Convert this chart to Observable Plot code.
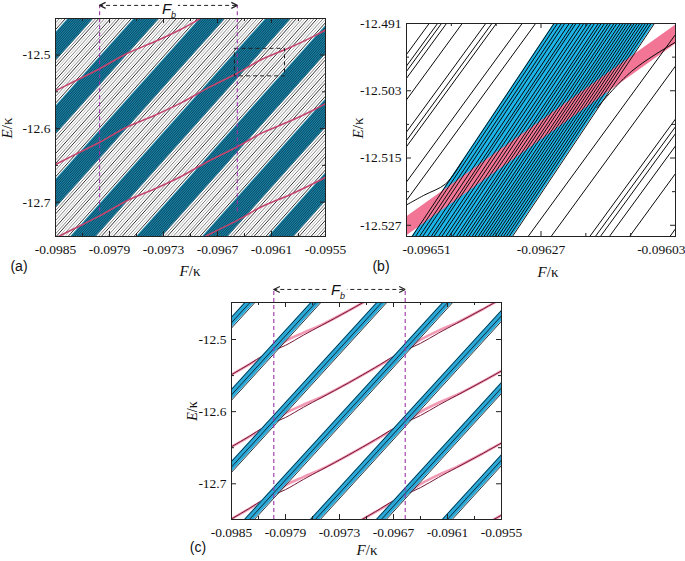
<!DOCTYPE html>
<html><head><meta charset="utf-8">
<script src="https://cdn.jsdelivr.net/npm/d3@7"></script>
<script src="https://cdn.jsdelivr.net/npm/@observablehq/plot@0.6"></script>
<style>
body{margin:0;background:#fff;}
#fig{position:relative;width:685px;height:561px;overflow:hidden;font-family:"Liberation Serif","Times New Roman",serif;color:#111;}
.p{position:absolute;}
.lbl{position:absolute;white-space:nowrap;transform:translate(-50%,-50%);line-height:1.15;}
.sans{font-family:"Liberation Sans",Arial,sans-serif;}
</style></head><body><div id="fig"></div>
<script>
// ---------------- shared data ----------------
const periods = [-5,-4,-3,-2,-1,0,1,2,3,4];       // ladder repetitions
const periodStep = 0.1;                           // E period of the ladders
const ladderSlope = 136.5;                        // dE/dF of steep levels (a),(c)

// ---------------- panel (a) ----------------
const FdomA = [-0.0985, -0.0955];
const EdomA = [-12.7466, -12.4504];
const xTicksA = [-0.0985,-0.0979,-0.0973,-0.0967,-0.0961,-0.0955];
const xMinorA = [-0.0982,-0.0976,-0.0970,-0.0964,-0.0958];
const yTicksA = [-12.5,-12.6,-12.7];
const yMinorA = [-12.55,-12.65];
const bandCenterA = -12.789;   // band centre E at F=-0.0985 (period 0)
const bandHalfA = 0.019;
const bandLineOffA = [-0.018,-0.0145,-0.011,-0.0075,-0.004,-0.0005,0.003,0.0065,0.010,0.0135,0.017];
const grayOffA = [0.0235,0.028,0.0325,0.037,0.0415,0.046,0.0505,0.055,0.0595,0.064,0.0685,0.073,0.0775];
const grayShadeA = [2,0,1,0,2,1,0,2,0,1,0,2,1];
const redFA = [-0.0987,-0.0985,-0.0983,-0.09801,-0.0977,-0.0974,-0.0971,-0.0968,-0.09648,-0.0962,-0.0959,-0.0956,-0.0953];
const redEA = [-12.661,-12.6487,-12.6364,-12.6186,-12.5976,-12.5821,-12.5647,-12.5443,-12.5247,-12.5055,-12.4901,-12.4726,-12.4522];
const redPeriodsA = [-2,-1,0,1];
const fbA = [-0.09801, -0.09648];
const fbArrowEA = -12.4326, fbLineBottomA = -12.713;
const boxA = {F1:-0.096506, F2:-0.09595, E1:-12.529, E2:-12.4916};

// ---------------- panel (b) ----------------
const FdomB = [-0.09651, -0.09603];
const EdomB = [-12.529, -12.491];
const xTicksB = [-0.09651,-0.09627,-0.09603];
const xMinorB = [-0.09643,-0.09635,-0.09619,-0.09611];
const yTicksB = [-12.491,-12.503,-12.515,-12.527];
const yMinorB = [-12.497,-12.509,-12.521];
const slopeB = 137;        // white-region levels
const bandSlopeB = 150;    // levels inside the blue band
const levelsB = [-0.096747,-0.096732,-0.096725,-0.096716,-0.096688,-0.096646,-0.096635,-0.096627,-0.096581,-0.096557,
                 -0.096293,-0.096252,-0.096183,-0.096173,-0.096164,-0.096148,-0.096112,-0.096040,-0.09601]; // F at E=-12.529
const bandEdgesB = [-0.0965, -0.096321];   // F at E=-12.529
const bandLinesB = [-0.096500,-0.096494,-0.096487,-0.096481,-0.096473,-0.096466,-0.096461,-0.096453,-0.096447,-0.096440,
  -0.096434,-0.096428,-0.096421,-0.096416,-0.096410,-0.096404,-0.096399,-0.096393,-0.096388,-0.096382,-0.096377,-0.096372,
  -0.096367,-0.096362,-0.096357,-0.096352,-0.096347,-0.096342,-0.096337,-0.096332,-0.096327,-0.096321];
const pinkCenterB = [[-0.09651,-12.5272],[-0.09603,-12.4930]];
const pinkHalfB = 0.0017;
const anti1B = [[-0.09617,-12.5060],[-0.096108,-12.4995],[-0.096028,-12.4942],[-0.09600,-12.4926]];
const anti2B = [[-0.09653,-12.5245],[-0.09648,-12.5217],[-0.09644,-12.5196],[-0.09641,-12.5155]];

// ---------------- panel (c) ----------------
const FdomC = [-0.0985, -0.0955];
const EdomC = [-12.7495, -12.4487];
const bandCenterC = -12.7767;
const bandHalfC = 0.0075;
const redFC = [-0.0987,-0.0985,-0.0983,-0.09815,-0.09803,-0.0979,-0.0977,-0.0975,-0.0972,-0.0969,-0.0967,-0.09657,-0.0964,-0.0962,-0.0960,-0.0957,-0.0955,-0.0953];
const redDarkEC = [-12.6629,-12.6487,-12.634,-12.6222,-12.615,-12.6081,-12.5939,-12.5805,-12.5601,-12.5386,-12.5234,-12.515,-12.5053,-12.4911,-12.4777,-12.4574,-12.4435,-12.4295];
const redPinkEC = [-12.6629,-12.6487,-12.6345,-12.6235,-12.6145,-12.6021,-12.5904,-12.5797,-12.5601,-12.5391,-12.5245,-12.5145,-12.5003,-12.4876,-12.4769,-12.4574,-12.4435,-12.4295];
const redPeriodsC = [-3,-2,-1,0,1];
const fbC = [-0.09803, -0.09657];
const fbArrowEC = -12.4306;

// ---------------- helpers ----------------
const fig = document.getElementById("fig");
const INK = "#222";
function ladder(center0, offsets, groups, F0, F1, slope, tag) {
  const out = [];
  periods.forEach(k => offsets.forEach((o, i) => {
    for (const F of [F0, F1]) out.push({id: tag + k + "_" + i, F, E: center0 + k*periodStep + o + slope*(F - F0), g: groups ? groups[i] : 0});
  }));
  return out;
}
function bands(center0, half, F0, F1, slope) {
  const out = [];
  periods.forEach(k => { for (const F of [F0, F1]) { const c = center0 + k*periodStep + slope*(F - F0); out.push({k, F, lo: c - half, hi: c + half}); } });
  return out;
}
function template(Fs, Es, ks) {
  return ks.flatMap(k => Fs.map((F, i) => ({k, F, E: Es[i] + k*periodStep})));
}
function levelsFromBottom(list, slope, Ebot, Etop, tag) {
  return list.flatMap((fb, i) => [Ebot - 0.005, Etop + 0.005].map(E => ({id: tag + i, F: fb + (E - Ebot)/slope, E})));
}
function frameTicks(xd, yd, W, H, xMaj, xMin, yMaj, yMin) {
  const ly = (yd[1]-yd[0])/H, lx = (xd[1]-xd[0])/W, out = [];
  for (const [arr, L] of [[xMaj, 5], [xMin, 3]]) {
    out.push(Plot.ruleX(arr, {x: d => d, y1: () => yd[0], y2: () => yd[0] + L*ly, stroke: INK}));
    out.push(Plot.ruleX(arr, {x: d => d, y1: () => yd[1], y2: () => yd[1] - L*ly, stroke: INK}));
  }
  for (const [arr, L] of [[yMaj, 5], [yMin, 3]]) {
    out.push(Plot.ruleY(arr, {y: d => d, x1: () => xd[0], x2: () => xd[0] + L*lx, stroke: INK}));
    out.push(Plot.ruleY(arr, {y: d => d, x1: () => xd[1], x2: () => xd[1] - L*lx, stroke: INK}));
  }
  return out;
}
function fbMarks(f, e, eBottom, W, H, xd, yd) {
  const lx = (xd[1]-xd[0])/W, ly = (yd[1]-yd[0])/H;
  const hx = 6*lx, hy = 3*ly;
  return [
    Plot.ruleX(f, {x: d => d, y1: () => eBottom, y2: () => e, stroke: "#9c34a8", strokeDasharray: "4,3", strokeWidth: 1.1}),
    Plot.ruleY([e], {y: d => d, x1: () => f[0], x2: () => f[1], stroke: INK, strokeDasharray: "4,3"}),
    Plot.link([[f[0], 1], [f[0], -1], [f[1], 1], [f[1], -1]], {
      x1: d => d[0], y1: () => e,
      x2: d => d[0] + (d[0] === f[0] ? hx : -hx), y2: d => e + d[1]*hy, stroke: INK, strokeWidth: 1.2})
  ];
}
function place(svg, left, top) {
  const d = document.createElement("div");
  d.className = "p"; d.style.left = left + "px"; d.style.top = top + "px";
  d.appendChild(svg); fig.appendChild(d);
}
const PSTYLE = {fontFamily: '"Liberation Serif","Times New Roman",serif', fontSize: "13px", background: "transparent", overflow: "visible"};
const fmt = d => String(d);

// ---------------- build panel (a) ----------------
{
  const W = 340, H = 290, mL = 55, mR = 15, mT = 18, mB = 54;
  const iW = W - mL - mR, iH = H - mT - mB;
  const [F0, F1] = FdomA;
  const bandPoly = bands(bandCenterA, bandHalfA, F0, F1, ladderSlope);
  const bandLines = ladder(bandCenterA, bandLineOffA, null, F0, F1, ladderSlope, "b");
  const grays = ladder(bandCenterA, grayOffA, grayShadeA, F0, F1, ladderSlope, "g");
  const red = template(redFA, redEA, redPeriodsA);
  const svg = Plot.plot({
    width: W, height: H, marginLeft: mL, marginRight: mR, marginTop: mT, marginBottom: mB,
    x: {domain: FdomA, axis: null}, y: {domain: EdomA, axis: null},
    color: {type: "ordinal", domain: [0, 1, 2], range: ["#bdbdbd", "#858585", "#333333"]},
    style: PSTYLE,
    marks: [
      Plot.areaY(bandPoly, {x: "F", y1: "lo", y2: "hi", z: "k", fill: "#1b82a5", clip: true}),
      Plot.line(bandLines, {x: "F", y: "E", z: "id", stroke: "#07425a", strokeWidth: 0.9, clip: true}),
      Plot.line(grays, {x: "F", y: "E", z: "id", stroke: "g", strokeWidth: 1, clip: true}),
      Plot.line(red, {x: "F", y: "E", z: "k", stroke: "#c4466e", strokeWidth: 1.6, curve: "catmull-rom", clip: true}),
      Plot.rect([boxA], {x1: "F1", x2: "F2", y1: "E1", y2: "E2", fill: "none", stroke: INK, strokeDasharray: "4,3"}),
      ...fbMarks(fbA, fbArrowEA, fbLineBottomA, iW, iH, FdomA, EdomA),
      Plot.frame({stroke: INK}),
      ...frameTicks(FdomA, EdomA, iW, iH, xTicksA, xMinorA, yTicksA, yMinorA),
      Plot.text(xTicksA, {x: d => d, y: () => EdomA[0], dy: 13, text: fmt, fontSize: 13.5}),
      Plot.text(yTicksA, {x: () => FdomA[0], y: d => d, dx: -5, textAnchor: "end", text: fmt, fontSize: 13.5})
    ]
  });
  place(svg, 0, 0);
}

// ---------------- build panel (b) ----------------
{
  const W = 345, H = 290, mL = 66, mR = 10, mT = 23, mB = 54;
  const iW = W - mL - mR, iH = H - mT - mB;
  const [F0, F1] = FdomB, [Eb, Et] = EdomB;
  const bandPoly = [F0 - 0.00005, F1 + 0.00005].map(F => {
    const lo = Eb + bandSlopeB*(F - bandEdgesB[1]), hi = Eb + bandSlopeB*(F - bandEdgesB[0]);
    return {F, lo, hi};
  });
  const pink = pinkCenterB.map(([F, E]) => ({F, lo: E - pinkHalfB, hi: E + pinkHalfB}));
  const white = levelsFromBottom(levelsB, slopeB, Eb, Et, "w");
  const inBand = levelsFromBottom(bandLinesB, bandSlopeB, Eb, Et, "n");
  const anti = [...anti1B.map(([F, E]) => ({id: "x1", F, E})), ...anti2B.map(([F, E]) => ({id: "x2", F, E}))];
  const svg = Plot.plot({
    width: W, height: H, marginLeft: mL, marginRight: mR, marginTop: mT, marginBottom: mB,
    x: {domain: FdomB, axis: null}, y: {domain: EdomB, axis: null},
    style: PSTYLE,
    marks: [
      Plot.areaY(bandPoly, {x: "F", y1: "lo", y2: "hi", fill: "#1db4e8", clip: true}),
      Plot.areaY(pink, {x: "F", y1: "lo", y2: "hi", fill: "#f27596", clip: true}),
      Plot.line(inBand, {x: "F", y: "E", z: "id", stroke: "#0a0a0a", strokeWidth: 1, clip: true}),
      Plot.line(white, {x: "F", y: "E", z: "id", stroke: "#0a0a0a", strokeWidth: 1, clip: true}),
      Plot.line(anti, {x: "F", y: "E", z: "id", stroke: "#0a0a0a", strokeWidth: 1, curve: "catmull-rom", clip: true}),
      Plot.frame({stroke: INK}),
      ...frameTicks(FdomB, EdomB, iW, iH, xTicksB, xMinorB, yTicksB, yMinorB),
      Plot.text([xTicksB[0]], {x: d => d, y: () => Eb, dy: 13, dx: -4, textAnchor: "start", text: fmt, fontSize: 13.5}),
      Plot.text([xTicksB[1]], {x: d => d, y: () => Eb, dy: 13, text: fmt, fontSize: 13.5}),
      Plot.text([xTicksB[2]], {x: d => d, y: () => Eb, dy: 13, dx: 10, textAnchor: "end", text: fmt, fontSize: 13.5}),
      Plot.text(yTicksB, {x: () => F0, y: d => d, dx: -5, textAnchor: "end", text: fmt, fontSize: 13.5})
    ]
  });
  place(svg, 340, 0);
}

// ---------------- build panel (c) ----------------
{
  const W = 330, H = 291, mL = 41, mR = 19, mT = 32, mB = 42;
  const iW = W - mL - mR, iH = H - mT - mB;
  const [F0, F1] = FdomC;
  const bandPoly = bands(bandCenterC, bandHalfC, F0, F1, ladderSlope);
  const edges = ladder(bandCenterC, [-bandHalfC, 0, bandHalfC], null, F0, F1, ladderSlope, "e");
  const pink = template(redFC, redPinkEC, redPeriodsC);
  const dark = template(redFC, redDarkEC, redPeriodsC);
  const svg = Plot.plot({
    width: W, height: H, marginLeft: mL, marginRight: mR, marginTop: mT, marginBottom: mB,
    x: {domain: FdomC, axis: null}, y: {domain: EdomC, axis: null},
    style: PSTYLE,
    marks: [
      Plot.line(pink, {x: "F", y: "E", z: "k", stroke: "#f29ab4", strokeWidth: 2.6, curve: "catmull-rom", clip: true}),
      Plot.line(dark, {x: "F", y: "E", z: "k", stroke: "#731733", strokeWidth: 1, curve: "catmull-rom", clip: true}),
      Plot.areaY(bandPoly, {x: "F", y1: "lo", y2: "hi", z: "k", fill: "#2aa9d8", clip: true}),
      Plot.line(edges, {x: "F", y: "E", z: "id", stroke: "#0e1e28", strokeWidth: 0.9, clip: true}),
      ...fbMarks(fbC, fbArrowEC, EdomC[0], iW, iH, FdomC, EdomC),
      Plot.frame({stroke: INK}),
      ...frameTicks(FdomC, EdomC, iW, iH, xTicksA, xMinorA, yTicksA, yMinorA),
      Plot.text(xTicksA, {x: d => d, y: () => EdomC[0], dy: 13, text: fmt, fontSize: 13.5}),
      Plot.text(yTicksA, {x: () => F0, y: d => d, dx: -5, textAnchor: "end", text: fmt, fontSize: 13.5})
    ]
  });
  place(svg, 190, 270);
}

// ---------------- text labels ----------------
function label(html, x, y, cls, size, rotate) {
  const d = document.createElement("div");
  d.className = "lbl " + (cls || "");
  d.style.left = x + "px"; d.style.top = y + "px"; d.style.fontSize = size + "px";
  if (rotate) d.style.transform = "translate(-50%,-50%) rotate(-90deg)";
  d.innerHTML = html; fig.appendChild(d);
}
const axF = '<i>F</i>/κ', axE = '<i>E</i>/κ';
const fbHTML = '<span style="background:#fff;padding:0 2px"><i>F</i><sub style="font-size:9px;font-style:italic">b</sub></span>';
label("(a)", 19, 266, "sans", 14);
label(axF, 190, 272, "", 15);
label(axE, 8, 128, "", 15, true);
label("(b)", 381, 266, "sans", 14);
label(axF, 548, 273, "", 15);
label(axE, 359, 128, "", 15, true);
label("(c)", 198, 547, "sans", 14);
label(axF, 367, 551, "", 15);
label(axE, 193, 411, "", 14, true);
label(fbHTML, 169, 10, "sans", 15);
label(fbHTML, 338, 291, "sans", 15);
</script></body></html>
